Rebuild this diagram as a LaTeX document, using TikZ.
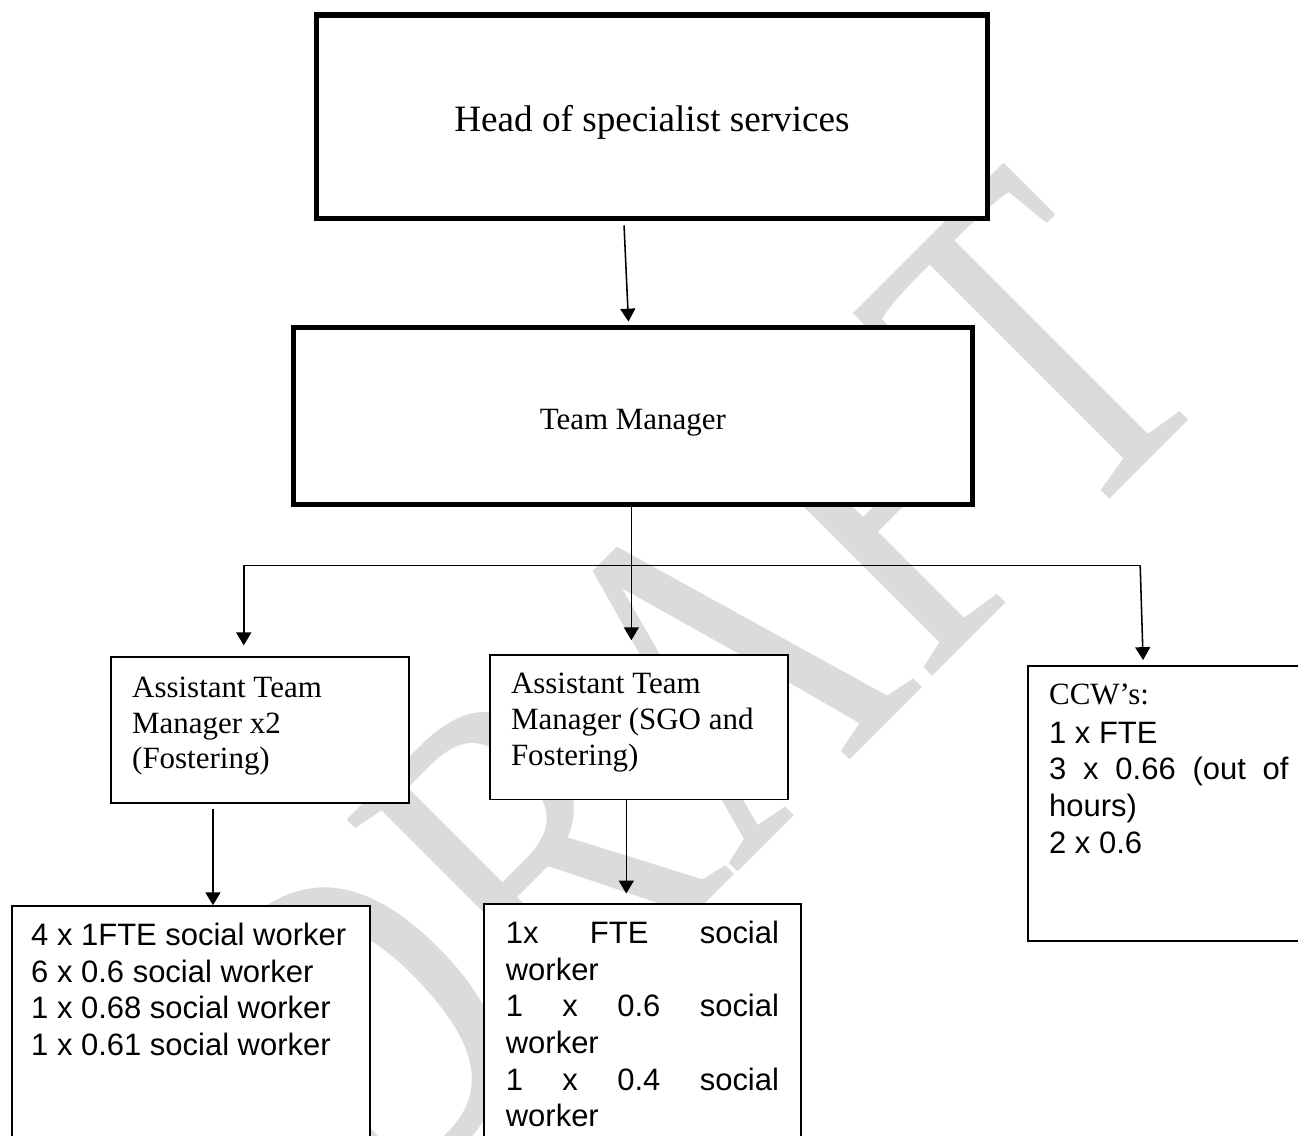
\documentclass[tikz,border=0pt]{standalone}
\usepackage{fontspec}
\setmainfont{Liberation Serif}
\newfontfamily\arialfont{Liberation Sans}
\usepackage{graphicx}
\usepackage{tikz}
\usetikzlibrary{arrows.meta}

\begin{document}
\begin{tikzpicture}[
  bigbox/.style={draw, line width=2pt, fill=white, inner sep=0pt},
  smallbox/.style={draw, line width=0.6pt, fill=white, anchor=north west,
    inner ysep=0pt, inner xsep=0.29cm,
    execute at begin node={\spaceskip=0pt\xspaceskip=0pt\rightskip=0pt plus 1fil\relax}},
  serif12/.style={font=\fontsize{12}{13.8}\selectfont},
  sans12/.style={font=\arialfont\fontsize{12}{14.2}\selectfont},
  conn/.style={line width=0.6pt, -{Triangle[length=5pt,width=5.8pt]}}]
\useasboundingbox (0,0) rectangle (17.68,-15.46);
\clip (0,0) rectangle (17.68,-15.46);
\node[rotate=45, text=black!14, font=\fontsize{185}{185}\selectfont] (draft) at (9.39,-9.50) {\scalebox{0.775}[1]{DRAFT}};

\node[bigbox, minimum width=9.13cm, minimum height=2.77cm, text height=0.5cm, text depth=0.11cm,
  font=\fontsize{14.4}{17}\selectfont] (head) at (8.88,-1.59) {Head of specialist services};
\node[bigbox, minimum width=9.25cm, minimum height=2.41cm, text height=0.45cm, text depth=0.1cm,
  serif12] (tm) at (8.62,-5.67) {Team Manager};

\node[smallbox, serif12, text width=3.48cm, text height=0.55cm, text depth=1.44cm]
  (atmfost) at (1.50,-8.94) {Assistant Team\\ Manager x2\\ (Fostering)};
\node[smallbox, serif12, text width=3.48cm, text height=0.53cm, text depth=1.44cm]
  (atmsgo) at (6.66,-8.91) {Assistant Team\\ Manager (SGO and\\ Fostering)};
\node[smallbox, sans12, text width=3.26cm, text height=0.52cm, text depth=3.23cm]
  (ccw) at (13.99,-9.06) {{\rmfamily CCW’s:}\\[1pt]
  1 x FTE\\
  \makebox[\linewidth]{3\hfill x\hfill 0.66\hfill (out\hfill of}\\
  hours)\\
  2 x 0.6};

\node[smallbox, sans12, text width=4.35cm, inner xsep=0.265cm, text height=0.54cm, text depth=3.5cm]
  (swfost) at (0.15,-12.33) {4 x 1FTE social worker\\
  6 x 0.6 social worker\\
  1 x 0.68 social worker\\
  1 x 0.61 social worker};
\node[smallbox, sans12, text width=3.72cm, inner xsep=0.30cm, text height=0.54cm, text depth=3.5cm]
  (swsgo) at (6.58,-12.30) {\makebox[\linewidth]{1x\hfill FTE\hfill social}\\
  worker\\
  \makebox[\linewidth]{1\hfill x\hfill 0.6\hfill social}\\
  worker\\
  \makebox[\linewidth]{1\hfill x\hfill 0.4\hfill social}\\
  worker};

\coordinate (barL) at (3.32,-7.70);
\coordinate (barR) at (15.53,-7.70);
\draw[conn] ([xshift=-0.38cm,yshift=-0.06cm]head.south) -- ([xshift=-0.06cm,yshift=0.05cm]tm.north);
\draw[line width=0.6pt] (barL) -- (barR);
\draw[conn] ([xshift=-0.02cm]tm.south) -- ([xshift=-0.02cm,yshift=0.19cm]tm.south |- atmsgo.north);
\draw[conn] (barL) -- ([yshift=0.15cm]barL |- atmfost.north);
\draw[conn] (barR) -- ([xshift=0.04cm,yshift=0.07cm]barR |- ccw.north);
\draw[conn] ([xshift=-0.64cm,yshift=-0.07cm]atmfost.south) -- ([xshift=-0.64cm]atmfost.south |- swfost.north);
\draw[conn] ([xshift=-0.17cm]atmsgo.south) -- ([xshift=-0.17cm,yshift=0.13cm]atmsgo.south |- swsgo.north);
\end{tikzpicture}
\end{document}
